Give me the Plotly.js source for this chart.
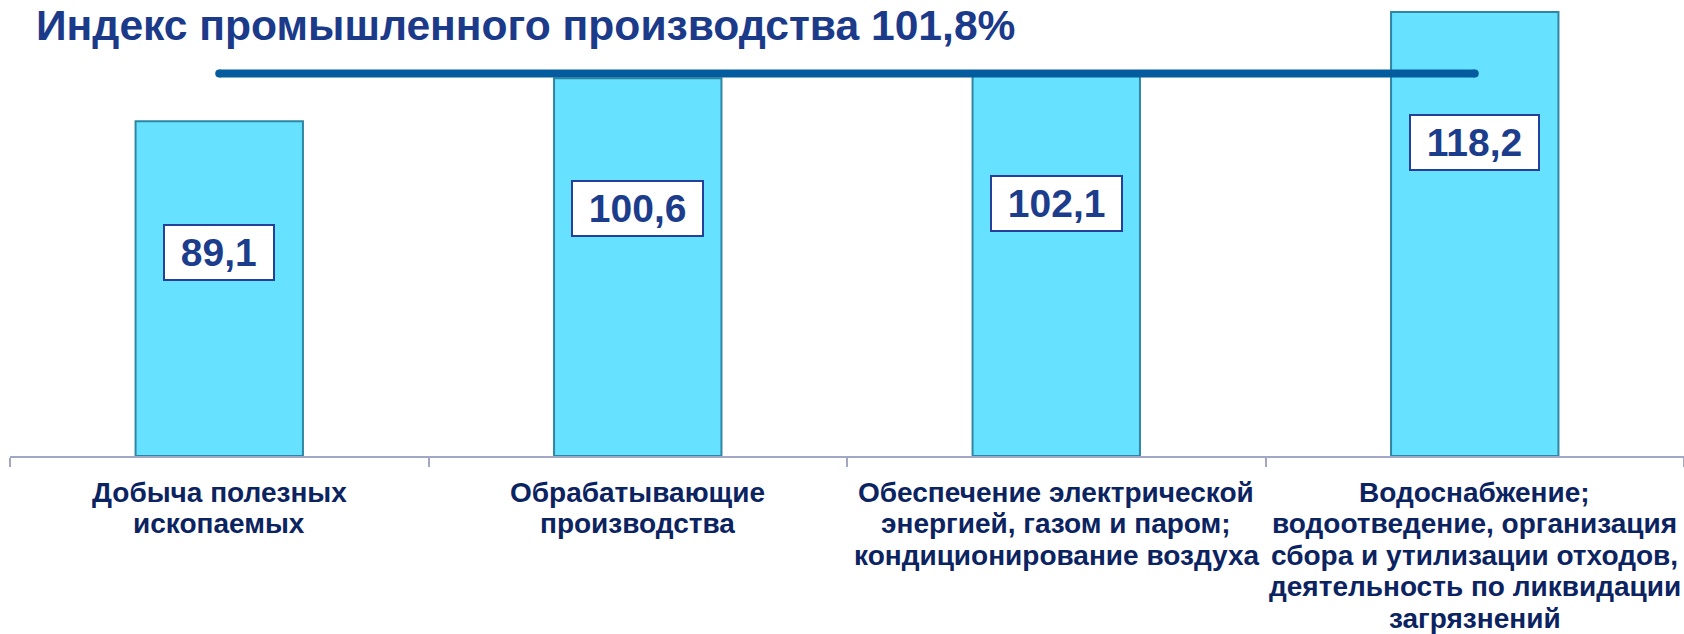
<!DOCTYPE html>
<html>
<head>
<meta charset="utf-8">
<script src="https://cdn.plot.ly/plotly-3.0.1.min.js"></script>
<style>
  html, body { margin: 0; padding: 0; background: #ffffff; }
  #chart { width: 1684px; height: 634px; }
</style>
</head>
<body>
<div id="chart"></div>
<script>
// Индексы по видам деятельности, %
const categories = [
    'Добыча полезных<br>ископаемых',
    'Обрабатывающие<br>производства',
    'Обеспечение электрической<br>энергией, газом и паром;<br>кондиционирование воздуха',
    'Водоснабжение;<br>водоотведение, организация<br>сбора и утилизации отходов,<br>деятельность по ликвидации<br>загрязнений'
];
const values = [89.1, 100.6, 102.1, 118.2];
const valueLabels = ['89,1', '100,6', '102,1', '118,2'];
const totalIndex = 101.8;
const titleText = 'Индекс промышленного производства 101,8%';

const fontFamily = 'Liberation Sans, Arial, sans-serif';
const navy = '#0b2360';
const labelBlue = '#1c3c8c';

const bars = {
    x: categories,
    y: values,
    type: 'bar',
    marker: {
        color: '#66e1ff',
        line: { color: '#2f86a3', width: 2 }
    },
    hoverinfo: 'skip'
};

// линия общего индекса - от первой до последней категории
const totalLine = {
    x: [categories[0], categories[categories.length - 1]],
    y: [totalIndex, totalIndex],
    type: 'scatter',
    mode: 'lines+markers',
    line: { color: '#045c9e', width: 8 },
    marker: { color: '#045c9e', size: 8 },
    hoverinfo: 'skip'
};

// подписи значений в белых рамках
const annotations = values.map((v, i) => ({
    x: categories[i],
    y: v - 34.8,
    xref: 'x',
    yref: 'y',
    text: '\u00a0' + valueLabels[i] + '\u00a0',
    showarrow: false,
    font: { family: fontFamily, size: 39, color: labelBlue, weight: 'bold' },
    bgcolor: '#ffffff',
    bordercolor: '#24409a',
    borderwidth: 2,
    borderpad: 5
}));

// подписи категорий: каждая строка отдельно, чтобы межстрочный интервал был плотнее
const lineStep = 31.4;
categories.forEach((cat) => {
    cat.split('<br>').forEach((line, k) => {
        annotations.push({
            x: cat,
            xref: 'x',
            y: 0,
            yref: 'paper',
            yanchor: 'middle',
            yshift: -(36.5 + k * lineStep),
            text: line,
            showarrow: false,
            borderpad: 0,
            font: { family: fontFamily, size: 28, color: navy, weight: 'bold' }
        });
    });
});

const layout = {
    width: 1684,
    height: 634,
    margin: { t: 0, b: 178, l: 10, r: 0 },
    paper_bgcolor: '#ffffff',
    plot_bgcolor: '#ffffff',
    showlegend: false,
    bargap: 0.6,
    font: { family: fontFamily },
    title: {
        text: titleText,
        x: 36 / 1684,
        xanchor: 'left',
        xref: 'container',
        y: 1 - 25 / 634,
        yanchor: 'middle',
        font: { family: fontFamily, size: 42.6, color: '#1b3a8a', weight: 'bold' }
    },
    xaxis: {
        type: 'category',
        showline: true,
        linecolor: '#a3a7c6',
        linewidth: 2,
        ticks: 'outside',
        tickson: 'boundaries',
        ticklen: 9,
        tickwidth: 2,
        tickcolor: '#a3a7c6',
        showgrid: false,
        showticklabels: false,
        fixedrange: true
    },
    yaxis: {
        range: [0, 121.4],
        visible: false,
        fixedrange: true
    },
    annotations: annotations
};

Plotly.newPlot('chart', [bars, totalLine], layout, { displayModeBar: false, staticPlot: true });
</script>
</body>
</html>
